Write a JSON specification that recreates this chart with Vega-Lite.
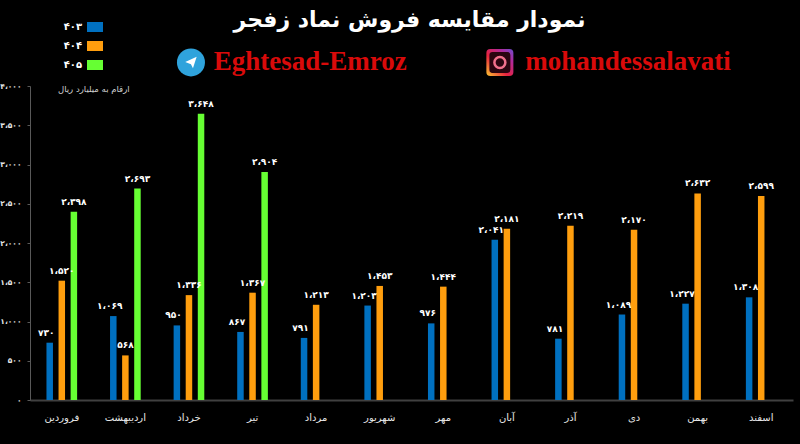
{
  "$schema": "https://vega.github.io/schema/vega-lite/v6.json",
  "description": "نمودار مقایسه فروش نماد زفجر",
  "width": 763,
  "height": 314,
  "autosize": "none",
  "padding": {"left": 30, "top": 86, "right": 7, "bottom": 44},
  "background": "black",
  "title": {
    "text": "نمودار مقایسه فروش  نماد زفجر",
    "font": "DejaVu Sans",
    "fontSize": 22,
    "fontWeight": "bold",
    "color": "white",
    "anchor": "middle",
    "frame": "group",
    "dx": -2,
    "offset": -16
  },
  "config": {
    "view": {"stroke": null},
    "font": "DejaVu Sans",
    "locale": {
      "number": {
        "decimal": ".",
        "thousands": "،",
        "grouping": [3],
        "currency": ["", ""],
        "numerals": ["۰", "۱", "۲", "۳", "۴", "۵", "۶", "۷", "۸", "۹"]
      }
    }
  },
  "datasets": {
    "sales": [
      {"month": "فروردین", "year": "۴۰۳", "value": 730},
      {"month": "فروردین", "year": "۴۰۴", "value": 1520},
      {"month": "فروردین", "year": "۴۰۵", "value": 2398},
      {"month": "اردیبهشت", "year": "۴۰۳", "value": 1069},
      {"month": "اردیبهشت", "year": "۴۰۴", "value": 568},
      {"month": "اردیبهشت", "year": "۴۰۵", "value": 2693},
      {"month": "خرداد", "year": "۴۰۳", "value": 950},
      {"month": "خرداد", "year": "۴۰۴", "value": 1336},
      {"month": "خرداد", "year": "۴۰۵", "value": 3648},
      {"month": "تیر", "year": "۴۰۳", "value": 867},
      {"month": "تیر", "year": "۴۰۴", "value": 1367},
      {"month": "تیر", "year": "۴۰۵", "value": 2904},
      {"month": "مرداد", "year": "۴۰۳", "value": 791},
      {"month": "مرداد", "year": "۴۰۴", "value": 1213},
      {"month": "شهریور", "year": "۴۰۳", "value": 1203},
      {"month": "شهریور", "year": "۴۰۴", "value": 1453},
      {"month": "مهر", "year": "۴۰۳", "value": 976},
      {"month": "مهر", "year": "۴۰۴", "value": 1444},
      {"month": "آبان", "year": "۴۰۳", "value": 2041},
      {"month": "آبان", "year": "۴۰۴", "value": 2181},
      {"month": "آذر", "year": "۴۰۳", "value": 781},
      {"month": "آذر", "year": "۴۰۴", "value": 2219},
      {"month": "دی", "year": "۴۰۳", "value": 1089},
      {"month": "دی", "year": "۴۰۴", "value": 2170},
      {"month": "بهمن", "year": "۴۰۳", "value": 1227},
      {"month": "بهمن", "year": "۴۰۴", "value": 2632},
      {"month": "اسفند", "year": "۴۰۳", "value": 1308},
      {"month": "اسفند", "year": "۴۰۴", "value": 2599}
    ],
    "handles": [
      {"month": "مرداد", "value": 4300, "label": "Eghtesad-Emroz"},
      {"month": "دی", "value": 4300, "label": "mohandessalavati"}
    ],
    "note": [
      {"month": "فروردین", "value": 3960, "label": "ارقام به میلیارد ریال"}
    ],
    "telegram": [
      {"month": "خرداد", "value": 4300}
    ],
    "instagram": [
      {"month": "آبان", "value": 4300}
    ]
  },
  "encoding": {
    "x": {
      "field": "month",
      "type": "nominal",
      "sort": ["فروردین", "اردیبهشت", "خرداد", "تیر", "مرداد", "شهریور", "مهر", "آبان", "آذر", "دی", "بهمن", "اسفند"],
      "scale": {"paddingInner": 0.43, "paddingOuter": 0.215},
      "axis": {
        "title": null,
        "labelAngle": 0,
        "labelColor": "#e6e6e6",
        "labelFontSize": 10,
        "labelPadding": 12,
        "ticks": false,
        "domainColor": "#404040",
        "domainWidth": 2
      }
    },
    "y": {
      "field": "value",
      "type": "quantitative",
      "scale": {"domain": [0, 4000], "nice": false},
      "axis": {
        "title": null,
        "values": [0, 500, 1000, 1500, 2000, 2500, 3000, 3500, 4000],
        "format": ",d",
        "grid": false,
        "labelColor": "#e6e6e6",
        "labelFontSize": 7.5,
        "labelFontWeight": "bold",
        "labelPadding": 6,
        "tickColor": "#595959",
        "tickSize": 3,
        "domainColor": "#595959",
        "domainWidth": 1
      }
    }
  },
  "layer": [
    {
      "data": {"name": "sales"},
      "mark": {"type": "bar", "width": 6.5},
      "encoding": {
        "xOffset": {"field": "year", "type": "nominal", "scale": {"domain": ["۴۰۳", "۴۰۴", "۴۰۵"]}},
        "color": {
          "field": "year",
          "type": "nominal",
          "scale": {"domain": ["۴۰۳", "۴۰۴", "۴۰۵"], "range": ["#0070c0", "#ff9e0e", "#66ff33"]},
          "legend": {
            "title": null,
            "orient": "none",
            "legendX": 54,
            "legendY": -70,
            "symbolType": "M-0.8,-0.5H0.8V0.5H-0.8Z",
            "symbolSize": 400,
            "symbolOpacity": 1,
            "rowPadding": 3,
            "labelColor": "white",
            "labelFontSize": 10,
            "labelFontWeight": "bold",
            "labelAlign": "right",
            "labelOffset": -24
          }
        }
      }
    },
    {
      "data": {"name": "sales"},
      "transform": [{"filter": "datum.year == '۴۰۳'"}],
      "mark": {"type": "text", "color": "white", "fontSize": 9, "fontWeight": "bold", "baseline": "bottom", "dy": -5, "dx": -3.5},
      "encoding": {
        "xOffset": {"field": "year", "type": "nominal", "scale": {"domain": ["۴۰۳", "۴۰۴", "۴۰۵"]}},
        "text": {"field": "value", "type": "quantitative", "format": ",d"}
      }
    },
    {
      "data": {"name": "sales"},
      "transform": [{"filter": "datum.year != '۴۰۳'"}],
      "mark": {"type": "text", "color": "white", "fontSize": 9, "fontWeight": "bold", "baseline": "bottom", "dy": -5},
      "encoding": {
        "xOffset": {"field": "year", "type": "nominal", "scale": {"domain": ["۴۰۳", "۴۰۴", "۴۰۵"]}},
        "text": {"field": "value", "type": "quantitative", "format": ",d"}
      }
    },
    {
      "data": {"name": "handles"},
      "mark": {"type": "text", "clip": false, "font": "Liberation Serif", "fontSize": 27, "fontWeight": "bold", "color": "#d90a0a", "dx": -6},
      "encoding": {"text": {"field": "label"}}
    },
    {
      "data": {"name": "note"},
      "mark": {"type": "text", "color": "#d0d0d0", "fontSize": 8.5, "dx": 32},
      "encoding": {"text": {"field": "label"}}
    },
    {
      "data": {"name": "telegram"},
      "mark": {"type": "point", "shape": "circle", "filled": true, "size": 784, "color": "#2fa3dc", "opacity": 1, "xOffset": 2}
    },
    {
      "data": {"name": "telegram"},
      "mark": {"type": "point", "shape": "M-1,-0.1L1,-1L0.35,1L0,0.3Z", "filled": true, "size": 130, "color": "white", "opacity": 1, "xOffset": 2}
    },
    {
      "data": {"name": "instagram"},
      "mark": {
        "type": "point",
        "shape": "M-0.7,-1H0.7Q1,-1 1,-0.7V0.7Q1,1 0.7,1H-0.7Q-1,1 -1,0.7V-0.7Q-1,-1 -0.7,-1Z",
        "filled": true,
        "size": 729,
        "opacity": 1,
        "xOffset": -7,
        "fill": {
          "gradient": "linear",
          "x1": 0, "y1": 1, "x2": 1, "y2": 0,
          "stops": [
            {"offset": 0, "color": "#fdc830"},
            {"offset": 0.4, "color": "#e8233f"},
            {"offset": 0.75, "color": "#b02a9c"},
            {"offset": 1, "color": "#6a4fd0"}
          ]
        }
      }
    },
    {
      "data": {"name": "instagram"},
      "mark": {
        "type": "point",
        "shape": "M-0.7,-1H0.7Q1,-1 1,-0.7V0.7Q1,1 0.7,1H-0.7Q-1,1 -1,0.7V-0.7Q-1,-1 -0.7,-1Z",
        "filled": true,
        "size": 440,
        "color": "#2a0510",
        "opacity": 1,
        "xOffset": -7
      }
    },
    {
      "data": {"name": "instagram"},
      "mark": {"type": "point", "shape": "circle", "size": 120, "stroke": "#f2708c", "strokeWidth": 2.5, "opacity": 1, "xOffset": -7}
    }
  ]
}
